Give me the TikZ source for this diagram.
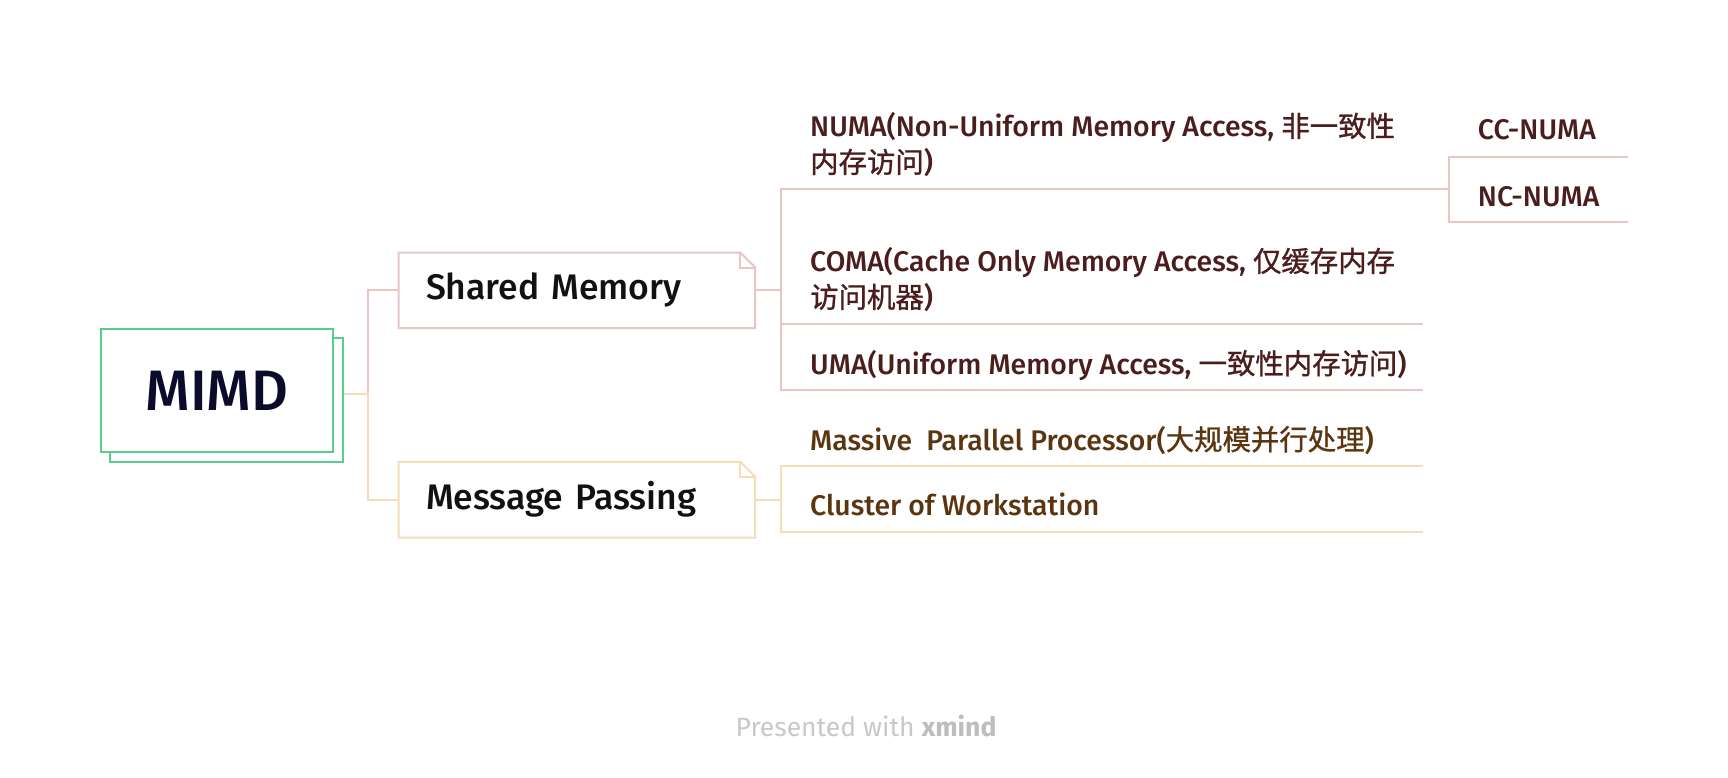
\documentclass[tikz,border=0pt]{standalone}
\usepackage{fontspec}
\setmainfont{Fira Sans}
\newfontfamily\medfont{Fira Sans}[UprightFont={* Medium}, BoldFont={* SemiBold}]
\newfontfamily\cjk{Noto Sans CJK SC}[FakeBold=1]
\definecolor{mimdgreen}{HTML}{58CF88}
\definecolor{mimdtext}{HTML}{0B0B2B}
\definecolor{topictext}{HTML}{111111}
\definecolor{pinkc}{HTML}{EBC4C4}
\definecolor{peachc}{HTML}{F7DCBC}
\definecolor{maroon}{HTML}{4B1D1D}
\definecolor{brownc}{HTML}{5A3510}
\definecolor{footc}{HTML}{C8C8C8}
\definecolor{footb}{HTML}{BDBDBD}
\tikzset{
  mimdbox/.style={draw=mimdgreen, line width=2pt, inner sep=0pt, fill=white},
  topicbox/.style={inner xsep=27.25pt, inner ysep=0pt, text width=301.75pt, align=left,
    minimum height=75.3pt, font=\medfont\fontsize{35.5}{40}\selectfont, text=topictext},
  pinkline/.style={draw=pinkc, line width=2pt},
  peachline/.style={draw=peachc, line width=2pt},
  smtext/.style={anchor=base west, inner sep=0pt, align=left, text=maroon,
    font=\medfont\fontsize{28.4}{36}\selectfont},
  mptext/.style={anchor=base west, inner sep=0pt, align=left, text=brownc,
    font=\medfont\fontsize{28.4}{36}\selectfont},
}
\begin{document}
\begin{tikzpicture}[x=1pt,y=-1pt]
\useasboundingbox[fill=white] (0,0) rectangle (1728,778);

% root
\node[mimdbox, minimum width=232.1pt, minimum height=123.7pt] (mimdback) at (226.45,400.15) {};
\node[mimdbox, minimum width=231.7pt, minimum height=123.3pt, text=mimdtext,
  font=\medfont\fontsize{57}{60}\selectfont] (mimd) at (216.85,390.35) {MIMD};

% main topics
\node[topicbox] (sm) at (576.9,290.35) {Shared Memory};
\node[topicbox] (mp) at (576.9,499.65) {Message Passing};

\draw[pinkline] (sm.north west) -- ([xshift=-15pt]sm.north east) -- ([yshift=-15pt]sm.north east)
  -- (sm.south east) -- (sm.south west) -- cycle;
\draw[pinkline] ([xshift=-15pt]sm.north east) -- ([xshift=-15pt,yshift=-15pt]sm.north east)
  -- ([yshift=-15pt]sm.north east);
\draw[peachline] (mp.north west) -- ([xshift=-15pt]mp.north east) -- ([yshift=-15pt]mp.north east)
  -- (mp.south east) -- (mp.south west) -- cycle;
\draw[peachline] ([xshift=-15pt]mp.north east) -- ([xshift=-15pt,yshift=-15pt]mp.north east)
  -- ([yshift=-15pt]mp.north east);

% root connectors
\coordinate (j1) at (367.7,394.3);
\draw[pinkline] (mimdback.east |- j1) -- (j1) |- (sm.west);
\draw[peachline] (mimdback.east |- j1) -- (j1) |- (mp.west);

% shared memory children
\node[smtext] (numa) at (810,172.7) {NUMA(Non-Uniform Memory Access, {\cjk 非一致性}\\{\cjk 内存访问})};
\node[smtext] (coma) at (810,307.7) {COMA(Cache Only Memory Access, {\cjk 仅缓存内存}\\{\cjk 访问机器})};
\node[smtext] (uma) at (810,374) {UMA(Uniform Memory Access, {\cjk 一致性内存访问})};
\node[smtext] (cc) at (1477.7,140) {CC-NUMA};
\node[smtext] (nc) at (1477.7,206) {NC-NUMA};

\coordinate (numaL) at (781.4,189);
\coordinate (numaR) at (1448.9,189);
\coordinate (comaL) at (781.4,324.3);
\coordinate (comaR) at (1422.6,324.3);
\coordinate (umaL) at (781.4,390);
\coordinate (umaR) at (1422.6,390);
\coordinate (ccL) at (1448.9,156.7);
\coordinate (ccR) at (1628.3,156.7);
\coordinate (ncL) at (1448.9,222.3);
\coordinate (ncR) at (1628.3,222.3);

\draw[pinkline] (sm.east) -- (sm.east -| numaL);
\draw[pinkline] (numaR) -- (numaL) -- (umaL) -- (umaR);
\draw[pinkline] (comaL) -- (comaR);
\draw[pinkline] (ccR) -- (ccL) -- (ncL) -- (ncR);

% message passing children
\node[mptext] (mpp) at (810,450) {Massive\ \ Parallel Processor({\cjk 大规模并行处理})};
\node[mptext] (cow) at (810,515.7) {Cluster of Workstation};
\coordinate (mppL) at (781.4,466);
\coordinate (mppR) at (1423,466);
\coordinate (cowL) at (781.4,532);
\coordinate (cowR) at (1423,532);
\draw[peachline] (mp.east) -- (mp.east -| mppL);
\draw[peachline] (mppR) -- (mppL) -- (cowL) -- (cowR);

% footer
\node[anchor=base, inner sep=0pt, text=footc, font=\fontsize{26.5}{26.5}\selectfont] (foot)
  at (866,736) {Presented with \textcolor{footb}{\textbf{xmind}}};
\end{tikzpicture}
\end{document}
